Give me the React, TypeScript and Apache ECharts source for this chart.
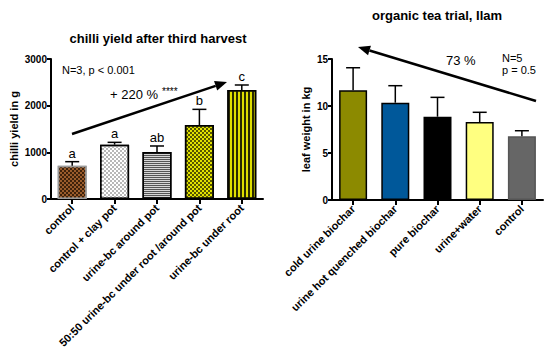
import React, { useEffect, useRef } from 'react';
import * as echarts from 'echarts';

const chilliCategories = [
  'control',
  'control + clay pot',
  'urine-bc around pot',
  '50:50 urine-bc under root /around pot',
  'urine-bc under root',
];
const chilliMeans = [714, 1164, 1007, 1586, 2336];
const chilliErrTop = [800, 1214, 1136, 1921, 2443];
const chilliLetters = ['a', 'a', 'ab', 'b', 'c'];

const teaCategories = [
  'cold urine biochar',
  'urine hot quenched biochar',
  'pure biochar',
  'urine+water',
  'control',
];
const teaMeans = [11.67, 10.35, 8.86, 8.3, 6.77];
const teaErrTop = [14.07, 12.16, 10.92, 9.33, 7.37];
const teaColors = ['#8c8a00', '#00589a', '#000000', '#ffff80', '#666666'];

const FONT = '"Liberation Sans", Arial, sans-serif';

const chilliStyles = [
  {
    color: '#9a5c2c',
    borderColor: '#9a9a9a',
    decal: { symbol: 'rect', symbolSize: 1, dashArrayX: [[2, 2], [0, 2, 2, 0]], dashArrayY: [2, 0], color: 'rgba(30,15,0,0.75)' },
  },
  {
    color: '#ffffff',
    borderColor: '#000',
    decal: { symbol: 'rect', symbolSize: 1, dashArrayX: [[2, 2], [0, 2, 2, 0]], dashArrayY: [2, 0], color: '#b8b8b8' },
  },
  {
    color: '#555555',
    borderColor: '#000',
    decal: { symbol: 'rect', symbolSize: 1, dashArrayX: [1, 0], dashArrayY: [1, 1], color: '#d6d6d6' },
  },
  {
    color: '#e2e200',
    borderColor: '#000',
    decal: { symbol: 'rect', symbolSize: 1, dashArrayX: [[2, 2], [0, 2, 2, 0]], dashArrayY: [2, 0], color: 'rgba(50,50,0,0.8)' },
  },
  {
    color: '#dede00',
    borderColor: '#000',
    decal: { symbol: 'rect', symbolSize: 1, dashArrayX: [1.5, 1.5], dashArrayY: [1, 0], color: '#2a2a00' },
  },
];

function arrow(x1: number, y1: number, x2: number, y2: number) {
  const dx = x2 - x1;
  const dy = y2 - y1;
  const len = Math.sqrt(dx * dx + dy * dy);
  const ux = dx / len;
  const uy = dy / len;
  const hl = 12;
  const hw = 5;
  const bx = x2 - ux * hl;
  const by = y2 - uy * hl;
  const px = -uy;
  const py = ux;
  return [
    { type: 'line', shape: { x1, y1, x2: bx, y2: by }, style: { stroke: '#000', lineWidth: 2.5 } },
    {
      type: 'polygon',
      shape: { points: [[x2, y2], [bx + px * hw, by + py * hw], [bx - px * hw, by - py * hw]] },
      style: { fill: '#000' },
    },
  ];
}

function errRender(letters: string[] | null) {
  return (params: any, api: any) => {
    const idx = api.value(0);
    const mean = api.value(1);
    const top = api.value(2);
    const p0 = api.coord([idx, mean]);
    const p1 = api.coord([idx, top]);
    const hw = 7;
    const children: any[] = [
      { type: 'line', shape: { x1: p0[0], y1: p0[1], x2: p1[0], y2: p1[1] }, style: { stroke: '#000', lineWidth: 1.5 } },
      { type: 'line', shape: { x1: p1[0] - hw, y1: p1[1], x2: p1[0] + hw, y2: p1[1] }, style: { stroke: '#000', lineWidth: 1.5 } },
    ];
    if (letters) {
      children.push({
        type: 'text',
        x: p1[0],
        y: p1[1] - 2,
        style: { text: letters[params.dataIndex], align: 'center', verticalAlign: 'bottom', fontSize: 13, fontFamily: FONT, fill: '#000' },
      });
    }
    return { type: 'group', children };
  };
}

const axisCommon = {
  axisLine: { show: true, lineStyle: { color: '#000', width: 2 } },
  axisTick: { show: true, length: 4, lineStyle: { color: '#000', width: 2 } },
  splitLine: { show: false },
};

const xLabel = { rotate: 45, interval: 0, fontSize: 11, fontWeight: 'bold', fontFamily: FONT, color: '#000', margin: 7 };
const yLabel = { fontSize: 10, fontWeight: 'bold', fontFamily: FONT, color: '#000', margin: 4, formatter: (v: number) => String(v) };
const yName = { fontSize: 11, fontWeight: 'bold', fontFamily: FONT, color: '#000' };

export default function App() {
  const ref = useRef<HTMLDivElement>(null);
  useEffect(() => {
    document.body.style.margin = '0';
    const chart = echarts.init(ref.current!, null, { renderer: 'svg' });
    const option: any = {
      animation: false,
      backgroundColor: '#fff',
      grid: [
        { left: 51, top: 59, width: 212, height: 140 },
        { left: 332, top: 59, width: 211, height: 141 },
      ],
      xAxis: [
        {
          type: 'category',
          gridIndex: 0,
          data: chilliCategories,
          ...axisCommon,
          axisTick: { show: true, alignWithLabel: true, length: 5, lineStyle: { color: '#000', width: 2 } },
          axisLabel: xLabel,
        },
        {
          type: 'category',
          gridIndex: 1,
          data: teaCategories,
          ...axisCommon,
          axisTick: { show: true, alignWithLabel: true, length: 5, lineStyle: { color: '#000', width: 2 } },
          axisLabel: xLabel,
        },
      ],
      yAxis: [
        {
          type: 'value',
          gridIndex: 0,
          min: 0,
          max: 3000,
          interval: 1000,
          ...axisCommon,
          axisLabel: yLabel,
          name: 'chilli yield in g',
          nameLocation: 'middle',
          nameGap: 32,
          nameTextStyle: yName,
        },
        {
          type: 'value',
          gridIndex: 1,
          min: 0,
          max: 15,
          interval: 5,
          ...axisCommon,
          axisLabel: yLabel,
          name: 'leaf weight in kg',
          nameLocation: 'middle',
          nameGap: 21,
          nameTextStyle: yName,
        },
      ],
      series: [
        {
          type: 'bar',
          xAxisIndex: 0,
          yAxisIndex: 0,
          barWidth: 29,
          data: chilliMeans.map((v, i) => ({ value: v, itemStyle: { ...chilliStyles[i], borderWidth: 1.5 } })),
        },
        {
          type: 'custom',
          xAxisIndex: 0,
          yAxisIndex: 0,
          renderItem: errRender(chilliLetters),
          data: chilliMeans.map((v, i) => [i, v, chilliErrTop[i]]),
          z: 5,
          clip: false,
        },
        {
          type: 'bar',
          xAxisIndex: 1,
          yAxisIndex: 1,
          barWidth: 28,
          data: teaMeans.map((v, i) => ({
            value: v,
            itemStyle: { color: teaColors[i], borderColor: i === 4 ? '#555' : '#000', borderWidth: 1.5 },
          })),
        },
        {
          type: 'custom',
          xAxisIndex: 1,
          yAxisIndex: 1,
          renderItem: errRender(null),
          data: teaMeans.map((v, i) => [i, v, teaErrTop[i]]),
          z: 5,
          clip: false,
        },
      ],
      graphic: [
        { type: 'text', x: 158, y: 38, style: { text: 'chilli yield after third harvest', align: 'center', verticalAlign: 'middle', fontSize: 13, fontWeight: 'bold', fontFamily: FONT, fill: '#000' } },
        { type: 'text', x: 437, y: 15, style: { text: 'organic tea trial, Ilam', align: 'center', verticalAlign: 'middle', fontSize: 13, fontWeight: 'bold', fontFamily: FONT, fill: '#000' } },
        { type: 'text', x: 62, y: 70, style: { text: 'N=3, p < 0.001', verticalAlign: 'middle', fontSize: 11, fontFamily: FONT, fill: '#000' } },
        { type: 'text', x: 110, y: 94, style: { text: '+ 220 %', verticalAlign: 'middle', fontSize: 13, fontFamily: FONT, fill: '#000' } },
        { type: 'text', x: 162, y: 91, style: { text: '****', verticalAlign: 'middle', fontSize: 10, fontFamily: FONT, fill: '#000' } },
        { type: 'text', x: 446, y: 60, style: { text: '73 %', verticalAlign: 'middle', fontSize: 13, fontFamily: FONT, fill: '#000' } },
        { type: 'text', x: 502, y: 58, style: { text: 'N=5', verticalAlign: 'middle', fontSize: 11, fontFamily: FONT, fill: '#000' } },
        { type: 'text', x: 502, y: 70, style: { text: 'p = 0.5', verticalAlign: 'middle', fontSize: 11, fontFamily: FONT, fill: '#000' } },
        { type: 'group', children: arrow(72, 134, 227, 82) },
        { type: 'group', children: arrow(536, 101, 358, 47) },
      ],
    };
    chart.setOption(option);
    return () => chart.dispose();
  }, []);
  return <div ref={ref} style={{ width: 550, height: 351 }} />;
}
